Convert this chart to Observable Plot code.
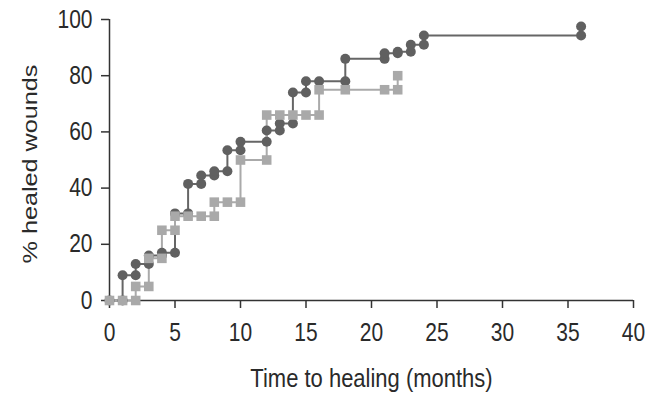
<!DOCTYPE html>
<html><head><meta charset="utf-8">
<script src="https://cdn.jsdelivr.net/npm/d3@7"></script>
<script src="https://cdn.jsdelivr.net/npm/@observablehq/plot@0.6"></script>
<style>body{margin:0;background:#fff;}</style>
</head><body><div id="chart"></div>
<script>
// Series 1 (dark circles): step values after each event time
const darkTimes  = [0, 1, 2, 3, 4, 5, 6, 7, 8, 9, 10, 12, 13, 14, 15, 16, 18, 21, 22, 23, 24, 36];
const darkValues = [0, 9, 13, 16, 17, 31, 41.5, 44.5, 46, 53.5, 56.5, 60.5, 63, 74, 78, 78, 86, 88, 88.5, 91, 94.3, 97.5];
// Series 2 (grey squares)
const grayTimes  = [0, 1, 2, 3, 4, 5, 6, 7, 8, 9, 10, 12, 13, 14, 15, 16, 18, 21, 22];
const grayValues = [0, 0, 5, 15, 25, 30, 30, 30, 35, 35, 50, 66, 66, 66, 66, 75, 75, 75, 80];

const xTicks = [0, 5, 10, 15, 20, 25, 30, 35, 40];
const yTicks = [0, 20, 40, 60, 80, 100];
const xLabel = "Time to healing (months)";
const yLabel = "% healed wounds";

function linePts(times, values) {
  return times.map((t, i) => ({t, v: values[i]}));
}
function markerPts(times, values) {
  const pts = [];
  times.forEach((t, i) => {
    if (i > 0 && values[i] !== values[i - 1]) pts.push({t, v: values[i - 1]});
    pts.push({t, v: values[i]});
  });
  return pts;
}

const darkColor = "#606060", grayColor = "#a9a9a9";
const font = "'Liberation Sans', Arial, Helvetica, sans-serif";
const textColor = "#2a2a2a";

const chart = Plot.plot({
  width: 657,
  height: 395,
  marginLeft: 109,
  marginRight: 24,
  marginTop: 19,
  marginBottom: 95,
  style: {fontFamily: font, fontSize: "21px", color: "#333", background: "#fff"},
  x: {domain: [0, 40]},
  y: {domain: [0, 100]},
  marks: [
    Plot.ruleY([0], {stroke: "#333", strokeWidth: 1.5}),
    Plot.ruleX([0], {stroke: "#333", strokeWidth: 1.5}),
    Plot.axisX({ticks: xTicks, tickSize: 8, tickPadding: 15, fontSize: 21, label: null, stroke: "#333", strokeWidth: 1.5, fill: textColor}),
    Plot.axisY({ticks: yTicks, tickSize: 8, tickPadding: 9, fontSize: 21, label: null, stroke: "#333", strokeWidth: 1.5, fill: textColor}),
    Plot.line(linePts(darkTimes, darkValues), {x: "t", y: "v", curve: "step-after", stroke: "#666", strokeWidth: 2}),
    Plot.line(linePts(grayTimes, grayValues), {x: "t", y: "v", curve: "step-after", stroke: "#aaa", strokeWidth: 2}),
    Plot.dot(markerPts(darkTimes, darkValues), {x: "t", y: "v", r: 5, fill: darkColor, stroke: "none", symbol: "circle"}),
    Plot.dot(markerPts(grayTimes, grayValues), {x: "t", y: "v", r: 5.4, fill: grayColor, stroke: "none", symbol: "square"}),
    Plot.text([xLabel], {frameAnchor: "bottom", dy: 78, textAnchor: "middle", lineAnchor: "middle", fontSize: 22, fill: textColor}),
    Plot.text([yLabel], {frameAnchor: "left", dx: -79, dy: 4, rotate: -90, textAnchor: "middle", lineAnchor: "middle", fontSize: 21, fill: textColor})
  ]
});

// The reference's lettering is stretched vertically (~1.2x); reproduce that.
chart.querySelectorAll("text").forEach(t => {
  const tr = t.getAttribute("transform");
  if (!tr) return;
  const rot = tr.includes("rotate");
  t.setAttribute("transform", `${tr} scale(${rot ? 1.2 : 1},${rot ? 1 : 1.2})`);
});
document.getElementById("chart").appendChild(chart);
</script>
</body></html>
